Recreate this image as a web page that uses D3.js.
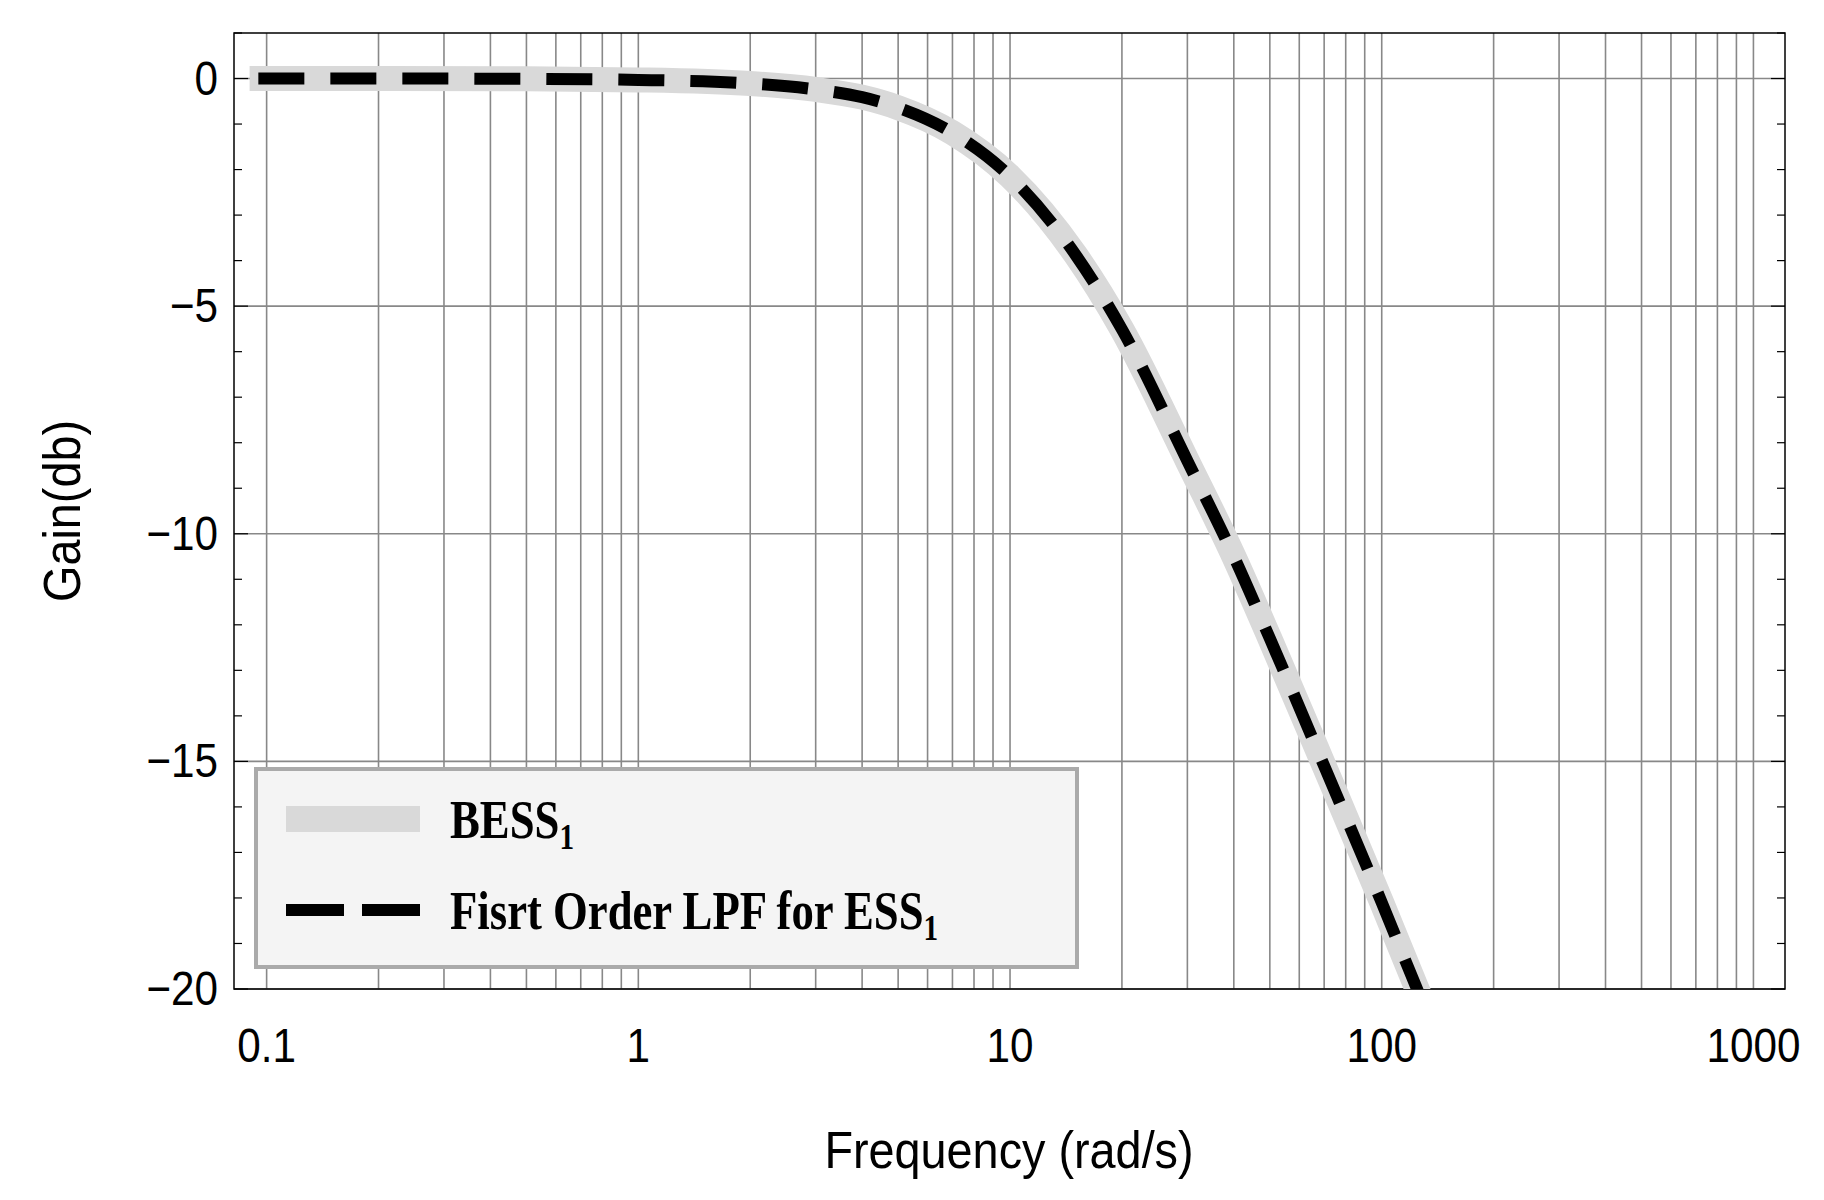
<!DOCTYPE html><html><head><meta charset="utf-8">
<script src="https://cdn.jsdelivr.net/npm/d3@7"></script>
<style>body{margin:0;background:#fff}</style></head><body><svg id="c" width="1824" height="1200"></svg>
<script>
const freqs=[0.09,0.2,0.5,1,2,3,4,5,7,10,15,20,30,40,50,70,100,125,140];
const bessGain=[0,0,-0.007,-0.03,-0.11,-0.24,-0.41,-0.64,-1.19,-2.15,-3.87,-5.51,-8.4,-10.5,-12.3,-15.1,-18.1,-20.04,-21.0];
const lpfFreqs=[0.095,0.2,0.5,1,2,3,4,5,7,10,15,20,30,40,50,70,100,125,140];
const lpfGain=[0,0,-0.007,-0.03,-0.11,-0.24,-0.41,-0.64,-1.19,-2.15,-3.87,-5.51,-8.4,-10.5,-12.3,-15.1,-18.1,-20.04,-21.0];
const xTicks=[0.1,1,10,100,1000];
const yTicks=[0,-5,-10,-15,-20];
const legendLabels=["BESS","Fisrt Order LPF for ESS"];

const svg=d3.select("#c");
const L=234,R=1785,T=33,B=989;
const x=d3.scaleLog().domain([0.0817,1216]).range([L,R]);
const y=d3.scaleLinear().domain([-20,1]).range([B,T]);
svg.append("defs").append("clipPath").attr("id","clip").append("rect").attr("x",L).attr("y",T).attr("width",R-L).attr("height",B-T);
const g=svg.append("g");
const minor=[];for(let e=-1;e<3;e++)for(let k=1;k<10;k++)minor.push(k*Math.pow(10,e));minor.push(1000);
g.selectAll(".vg").data(minor.filter(v=>v>=0.1)).enter().append("line").attr("x1",d=>x(d)).attr("x2",d=>x(d)).attr("y1",T).attr("y2",B).attr("stroke","#888").attr("stroke-width",1.6);
g.selectAll(".hg").data(yTicks).enter().append("line").attr("x1",L).attr("x2",R).attr("y1",d=>y(d)).attr("y2",d=>y(d)).attr("stroke","#888").attr("stroke-width",1.6);
const ym=d3.range(-20,2,1);
ym.forEach(v=>{const len=yTicks.includes(v)?14:8;
 g.append("line").attr("x1",L).attr("x2",L+len).attr("y1",y(v)).attr("y2",y(v)).attr("stroke","#000").attr("stroke-width",1.2);
 g.append("line").attr("x1",R).attr("x2",R-len).attr("y1",y(v)).attr("y2",y(v)).attr("stroke","#000").attr("stroke-width",1.2);});
svg.append("rect").attr("x",L).attr("y",T).attr("width",R-L).attr("height",B-T).attr("fill","none").attr("stroke","#000").attr("stroke-width",1.5);
const line=d3.line().x(d=>x(d[0])).y(d=>y(d[1])).curve(d3.curveMonotoneX);
const cg=svg.append("g").attr("clip-path","url(#clip)");
cg.append("path").attr("d",line(freqs.map((f,i)=>[f,bessGain[i]]))).attr("fill","none").attr("stroke","#d9d9d9").attr("stroke-width",25);
cg.append("path").attr("d",line(lpfFreqs.map((f,i)=>[f,lpfGain[i]]))).attr("fill","none").attr("stroke","#000").attr("stroke-width",12).attr("stroke-dasharray","46,26");
const ff="Liberation Sans, Arial, sans-serif";
svg.selectAll(".xt").data(xTicks).enter().append("text").attr("x",d=>x(d)).attr("y",1062).attr("text-anchor","middle").attr("font-family",ff).attr("font-size",48).attr("transform",d=>`translate(${x(d)},0) scale(0.88,1) translate(${-x(d)},0)`).text(d=>d3.format("~g")(d));
svg.selectAll(".yt").data(yTicks).enter().append("text").attr("x",218).attr("y",d=>y(d)+16).attr("text-anchor","end").attr("font-family",ff).attr("font-size",48).attr("transform","translate(218,0) scale(0.88,1) translate(-218,0)").text(d=>d===0?"0":"\u2212"+Math.abs(d));
svg.append("text").attr("x",1009).attr("y",1168).attr("text-anchor","middle").attr("font-family",ff).attr("font-size",52).attr("transform","translate(1009,0) scale(0.9,1) translate(-1009,0)").text("Frequency (rad/s)");
svg.append("text").attr("transform","translate(80,511) rotate(-90) scale(0.9,1)").attr("text-anchor","middle").attr("font-family",ff).attr("font-size",52).text("Gain(db)");
const lg=svg.append("g");
lg.append("rect").attr("x",256).attr("y",769).attr("width",821).attr("height",198).attr("fill","#f4f4f4").attr("stroke","#aaa").attr("stroke-width",4);
lg.append("line").attr("x1",286).attr("x2",420).attr("y1",819).attr("y2",819).attr("stroke","#d9d9d9").attr("stroke-width",26);
lg.append("line").attr("x1",286).attr("x2",420).attr("y1",910).attr("y2",910).attr("stroke","#000").attr("stroke-width",12).attr("stroke-dasharray","58,18");
const sf="Liberation Serif, Times New Roman, serif";
legendLabels.forEach((t,i)=>{const yy=[838,929][i];const tx=lg.append("text").attr("transform",`translate(450,${yy}) scale(0.86,1.05)`).attr("font-family",sf).attr("font-weight","bold").attr("font-size",52).text(t);
 tx.append("tspan").attr("font-size",34).attr("dy",10).text("1");});
</script></body></html>
